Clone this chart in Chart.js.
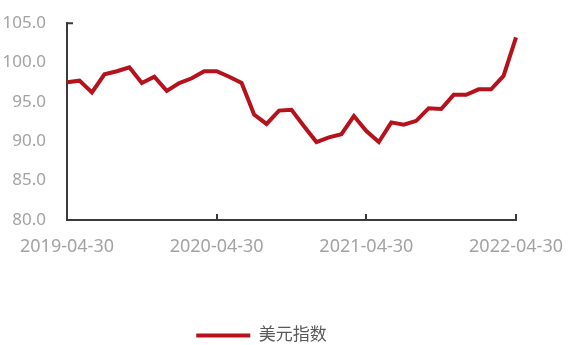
<!DOCTYPE html>
<html>
<head>
<meta charset="utf-8">
<script src="https://cdn.jsdelivr.net/npm/chart.js@4.4.0/dist/chart.umd.min.js"></script>
<style>
  html, body { margin: 0; padding: 0; background: #fff; overflow: hidden; }
  #wrap { width: 571px; height: 345px; }
</style>
</head>
<body>
<div id="wrap"><canvas id="myChart" width="571" height="345"></canvas></div>
<script>
// month-end dates, 2019-04 .. 2022-04
const months = [
  '2019-04-30', '2019-05-31', '2019-06-30', '2019-07-31', '2019-08-31', '2019-09-30',
  '2019-10-31', '2019-11-30', '2019-12-31', '2020-01-31', '2020-02-29', '2020-03-31',
  '2020-04-30', '2020-05-31', '2020-06-30', '2020-07-31', '2020-08-31', '2020-09-30',
  '2020-10-31', '2020-11-30', '2020-12-31', '2021-01-31', '2021-02-28', '2021-03-31',
  '2021-04-30', '2021-05-31', '2021-06-30', '2021-07-31', '2021-08-31', '2021-09-30',
  '2021-10-31', '2021-11-30', '2021-12-31', '2022-01-31', '2022-02-28', '2022-03-31',
  '2022-04-30'
];
const shownDates = ['2019-04-30', '2020-04-30', '2021-04-30', '2022-04-30'];

const dollarIndex = [
  97.5, 97.7, 96.2, 98.5, 98.9, 99.4,
  97.4, 98.2, 96.4, 97.4, 98.0, 98.9,
  98.9, 98.2, 97.4, 93.4, 92.2, 93.9,
  94.0, 91.9, 89.9, 90.5, 90.9, 93.2,
  91.3, 89.9, 92.4, 92.1, 92.6, 94.2,
  94.1, 95.9, 95.9, 96.6, 96.6, 98.3,
  103.2
];

const yMin = 80;
const yMax = 105;
const yStep = 5;

const red = '#b5121b';
const axisColor = '#3a3a3a';
const font = '"Noto Sans", "Noto Sans CJK SC", sans-serif';

// short inward tick marks: upward on the date axis, rightward at the top of the value axis
const tickMarks = {
  id: 'tickMarks',
  afterDraw(chart) {
    const { ctx, scales } = chart;
    const x = scales.x, y = scales.y;
    ctx.save();
    ctx.strokeStyle = axisColor;
    ctx.lineWidth = 2;
    ctx.beginPath();
    x.ticks.forEach((t, i) => {
      if (!shownDates.includes(months[t.value])) return;
      const px = Math.round(x.getPixelForTick(i));
      ctx.moveTo(px, x.top);
      ctx.lineTo(px, x.top - 6);
    });
    const top = y.getPixelForValue(yMax);
    ctx.moveTo(y.right, top);
    ctx.lineTo(y.right + 6, top);
    ctx.stroke();
    ctx.restore();
  }
};

const ctx = document.getElementById('myChart').getContext('2d');
let myChart = new Chart(ctx, {
  type: 'line',
  data: {
    labels: months,
    datasets: [{
      label: '美元指数',
      data: dollarIndex,
      borderColor: red,
      backgroundColor: red,
      borderWidth: 4,
      pointRadius: 0,
      tension: 0,
      borderJoinStyle: 'miter'
    }]
  },
  options: {
    responsive: false,
    animation: false,
    layout: { padding: { top: 21, right: 48, left: 0, bottom: -9 } },
    scales: {
      x: {
        offset: false,
        border: { display: true, color: axisColor, width: 2 },
        grid: { display: false },
        ticks: {
          autoSkip: false,
          maxRotation: 0,
          padding: 8,
          color: '#a3a3a3',
          font: { family: font, size: 18 },
          callback: function (val) {
            const d = this.getLabelForValue(val);
            return shownDates.includes(d) ? d : null;
          }
        },
        afterFit: s => { s.height = 103; }
      },
      y: {
        min: yMin,
        max: yMax,
        border: { display: true, color: axisColor, width: 2 },
        grid: { display: false },
        ticks: {
          stepSize: yStep,
          padding: 13,
          color: '#a3a3a3',
          font: { family: font, size: 17 },
          callback: v => v.toFixed(1)
        },
        afterFit: s => { s.width = 67; }
      }
    },
    plugins: {
      tooltip: { enabled: false },
      legend: {
        position: 'bottom',
        labels: {
          usePointStyle: true,
          pointStyle: 'line',
          pointStyleWidth: 54,
          padding: 4,
          color: '#595959',
          font: { family: font, size: 17 }
        }
      }
    }
  },
  plugins: [tickMarks]
});
</script>
</body>
</html>
